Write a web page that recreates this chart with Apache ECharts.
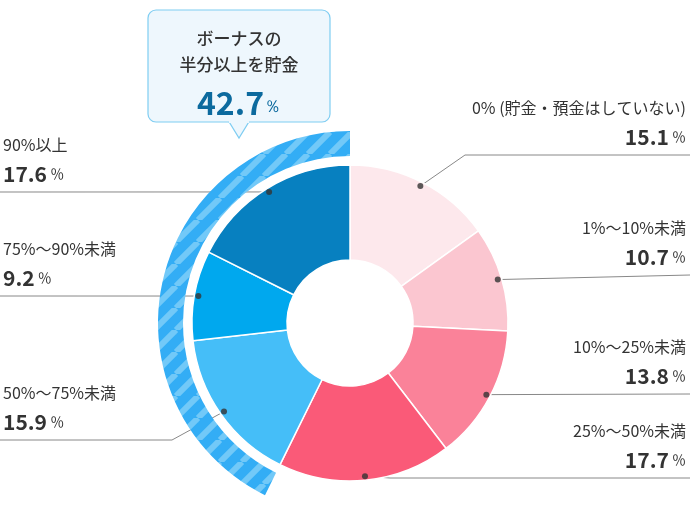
<!DOCTYPE html>
<html><head><meta charset="utf-8">
<script src="https://cdn.jsdelivr.net/npm/echarts@6/dist/echarts.min.js"></script>
<style>html,body{margin:0;background:#fff}#c{width:690px;height:518px}</style>
</head><body><div id="c"></div>
<script>
const categories = ['0% (貯金・預金はしていない)','1%～10%未満','10%～25%未満','25%～50%未満','50%～75%未満','75%～90%未満','90%以上'];
const values = [15.1, 10.7, 13.8, 17.7, 15.9, 9.2, 17.6];
const colors = ['#fde8ec','#fbc6d0','#fa8299','#fa5a78','#45bef8','#00a8ee','#0780c0'];
const highlightValue = 42.7;
const highlightTitle = ['ボーナスの','半分以上を貯金'];

const place = [
  ['r',155,465],['r',275,null],['r',394,null],['r',478,390],
  ['l',440,172],['l',296,null],['l',192,null]
];
const C=[350,323], R=158, DOT=154;

const cv=document.createElement('canvas');cv.width=22;cv.height=22;
const g=cv.getContext('2d');g.fillStyle='#33adf5';g.fillRect(0,0,22,22);
g.strokeStyle='#72c9f8';g.lineWidth=6;
for(let k=-22;k<=44;k+=22){g.beginPath();g.moveTo(k,22);g.lineTo(k+22,0);g.stroke();}

let cum=0;const mids=values.map(v=>{const m=cum+v/2;cum+=v;return m;});
const dotPt=i=>{const a=mids[i]/100*2*Math.PI;return [C[0]+DOT*Math.sin(a),C[1]-DOT*Math.cos(a)];};

const chart=echarts.init(document.getElementById('c'));
chart.setOption({
  textStyle:{fontFamily:'"Noto Sans CJK JP","Noto Sans",sans-serif'},
  polar:{center:C,radius:[0,R]},
  radiusAxis:{min:0,max:R,show:false},
  angleAxis:{min:0,max:100,startAngle:90,clockwise:true,show:false},
  series:[
    {type:'pie',center:C,radius:[167,192],startAngle:90,silent:true,label:{show:false},labelLine:{show:false},
     data:[{value:100-highlightValue,itemStyle:{color:'rgba(0,0,0,0)'}},{value:highlightValue,itemStyle:{color:{image:cv,repeat:'repeat'}}}]},
    {type:'pie',center:C,radius:[63,R],startAngle:90,silent:true,
     itemStyle:{borderColor:'#fff',borderWidth:1.5},
     data:categories.map((n,i)=>({name:n,value:values[i],itemStyle:{color:colors[i]}})),
     label:{show:true,overflow:'none',width:400,formatter:p=>'{n|'+p.name+'}\n{v|'+p.value+'}{p| ％}',
       rich:{n:{fontSize:16,color:'#333',lineHeight:28},v:{fontSize:21,fontWeight:'bold',color:'#333',lineHeight:30},p:{fontSize:14,color:'#333'}}},
     labelLine:{show:true,lineStyle:{color:'#888',width:1}},
     labelLayout:p=>{
       const i=p.dataIndex,[s,y,b]=place[i],d=dotPt(i);
       if(s==='r'){
         const pts=b?[d,[b,y],[690,y]]:[d,[690,y]];
         return {x:686,y:y-3,align:'right',verticalAlign:'bottom',labelLinePoints:pts};
       }else{
         const pts=b?[d,[b,y],[0,y]]:[d,[0,y]];
         return {x:3,y:y-3,align:'left',verticalAlign:'bottom',labelLinePoints:pts};
       }
     }},
    {type:'scatter',coordinateSystem:'polar',symbolSize:6,itemStyle:{color:'#333'},silent:true,z:10,
     data:mids.map(m=>[DOT,m])}
  ],
  graphic:[
    {type:'polygon',shape:{points:[[228,120],[250,120],[239,138]]},style:{fill:'#eef7fd',stroke:'#7fcdf2',lineWidth:1.2},z:1},
    {type:'rect',shape:{x:148,y:10,width:182,height:112,r:8},style:{fill:'#eef7fd',stroke:'#7fcdf2',lineWidth:1.2},z:2},
    {type:'rect',shape:{x:229,y:119,width:20,height:4},style:{fill:'#eef7fd'},z:3},
    {type:'text',x:239,y:52,style:{text:highlightTitle.join('\n'),fill:'#333',fontSize:17,fontWeight:500,lineHeight:26,align:'center',verticalAlign:'middle',fontFamily:'"Noto Sans CJK JP"'},z:4},
    {type:'text',x:239,y:103,style:{text:'{a|'+highlightValue+'}{b|％}',align:'center',verticalAlign:'middle',
      rich:{a:{fontSize:32,fontWeight:'bold',fill:'#0c6a9e',fontFamily:'"Noto Sans CJK JP"'},b:{fontSize:17,fill:'#0c6a9e',padding:[8,0,0,0]}}},z:4}
  ]
});
</script></body></html>
